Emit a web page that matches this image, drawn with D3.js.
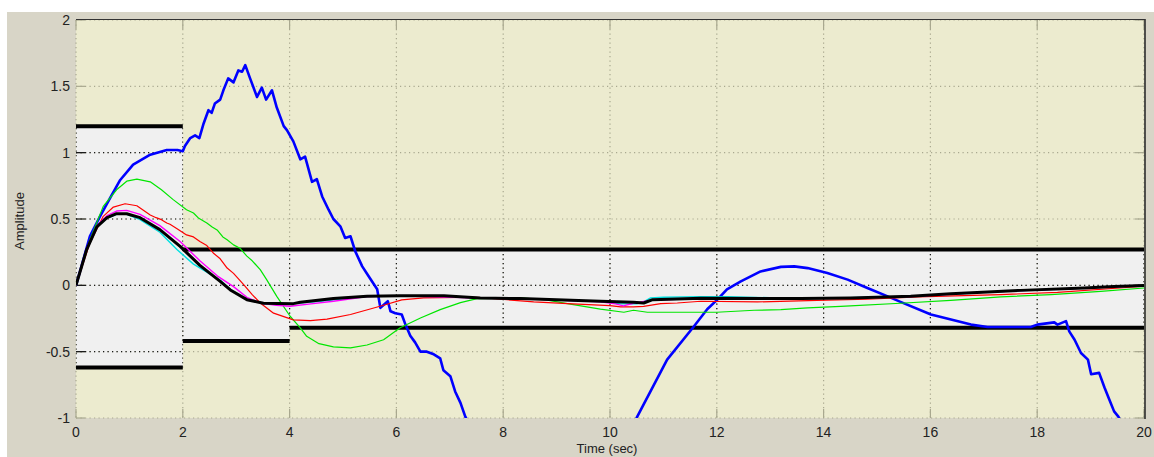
<!DOCTYPE html>
<html>
<head>
<meta charset="utf-8">
<script src="https://cdn.jsdelivr.net/npm/d3@7"></script>
<style>
  html, body { margin: 0; padding: 0; background: #ffffff; }
  #chart { width: 1154px; height: 457px; overflow: hidden; }
  text { font-family: "Liberation Sans", Arial, sans-serif; }
</style>
</head>
<body>
<div id="chart"></div>
<script>
// axis ticks
const xTicks = [0, 2, 4, 6, 8, 10, 12, 14, 16, 18, 20];
const yTicks = [-1, -0.5, 0, 0.5, 1, 1.5, 2];

// constraint bounds: [tStart, tEnd, value]
const upperBounds = [[0, 2, 1.2], [2, 20, 0.27]];
const lowerBounds = [[0, 2, -0.62], [2, 4, -0.42], [4, 20, -0.32]];

// responses, [time, amplitude]
const blueA = [[0,0],[0.1,0.14],[0.26,0.37],[0.45,0.52],[0.64,0.66],[0.82,0.79],[1.07,0.91],[1.39,0.985],[1.7,1.02],[1.9,1.02],[2.0,1.01],
  [2.04,1.05],[2.14,1.11],[2.23,1.13],[2.31,1.11],[2.39,1.22],[2.48,1.32],[2.54,1.30],[2.60,1.37],[2.70,1.40],[2.76,1.47],[2.85,1.56],
  [2.95,1.53],[3.04,1.62],[3.11,1.61],[3.17,1.66],[3.26,1.56],[3.39,1.42],[3.48,1.49],[3.56,1.40],[3.67,1.47],[3.76,1.34],[3.89,1.20],
  [3.95,1.17],[4.07,1.085],[4.20,0.95],[4.29,0.97],[4.42,0.78],[4.51,0.80],[4.61,0.67],[4.73,0.57],[4.82,0.50],[4.95,0.445],[5.04,0.357],
  [5.14,0.37],[5.23,0.256],[5.36,0.143],[5.48,0.068],[5.64,-0.03],[5.70,-0.17],[5.77,-0.145],[5.84,-0.12],[5.89,-0.196],[5.98,-0.21],
  [6.10,-0.22],[6.17,-0.296],[6.26,-0.38],[6.35,-0.43],[6.45,-0.50],[6.57,-0.50],[6.70,-0.52],[6.82,-0.55],[6.88,-0.64],[7.01,-0.685],
  [7.10,-0.80],[7.20,-0.886],[7.29,-0.99],[7.40,-1.08]];
const blueB = [[10.45,-1.04],[10.51,-0.99],[11.07,-0.56],[11.57,-0.31],[11.82,-0.18],[12.01,-0.108],[12.19,-0.03],[12.45,0.03],[12.82,0.105],
  [13.20,0.139],[13.45,0.143],[13.70,0.13],[14.07,0.093],[14.45,0.043],[14.82,-0.02],[15.20,-0.083],[15.44,-0.125],[16.01,-0.22],
  [16.76,-0.296],[17.07,-0.314],[17.88,-0.314],[18.0,-0.296],[18.32,-0.279],[18.38,-0.296],[18.54,-0.27],[18.6,-0.347],[18.70,-0.41],
  [18.82,-0.51],[18.95,-0.56],[19.01,-0.67],[19.16,-0.66],[19.26,-0.77],[19.35,-0.86],[19.44,-0.95],[19.52,-0.99],[19.6,-1.05]];
const greenLine = [[0,0],[0.26,0.344],[0.51,0.595],[0.76,0.72],[0.95,0.785],[1.14,0.80],[1.39,0.78],[1.6,0.72],[1.82,0.646],[2.07,0.57],
  [2.2,0.545],[2.3,0.505],[2.45,0.47],[2.55,0.44],[2.65,0.415],[2.75,0.365],[2.83,0.344],[2.95,0.305],[3.07,0.28],[3.2,0.22],
  [3.3,0.185],[3.45,0.118],[3.57,0.043],[3.76,-0.083],[4.01,-0.233],[4.2,-0.32],[4.32,-0.384],[4.55,-0.44],[4.82,-0.464],[5.14,-0.472],
  [5.45,-0.45],[5.76,-0.41],[6.07,-0.32],[6.45,-0.246],[6.82,-0.183],[7.2,-0.13],[7.51,-0.10],[8.32,-0.095],[8.8,-0.11],[9.2,-0.138],
  [9.82,-0.18],[10.26,-0.203],[10.44,-0.188],[10.7,-0.203],[12.0,-0.203],[12.7,-0.188],[13.2,-0.183],[13.7,-0.17],[14.32,-0.158],
  [14.5,-0.155],[15.44,-0.135],[16.38,-0.113],[17.32,-0.087],[18.26,-0.07],[19.19,-0.045],[20,-0.02]];
const redLine = [[0,0],[0.26,0.32],[0.51,0.52],[0.70,0.59],[0.92,0.615],[1.14,0.60],[1.39,0.53],[1.5,0.51],[1.6,0.495],[1.7,0.47],
  [1.76,0.46],[1.9,0.425],[2.07,0.38],[2.2,0.365],[2.32,0.33],[2.45,0.30],[2.57,0.244],[2.7,0.20],[2.83,0.13],[2.95,0.09],[3.14,0.005],
  [3.3,-0.07],[3.45,-0.133],[3.70,-0.21],[4.07,-0.26],[4.39,-0.266],[4.7,-0.255],[5.14,-0.22],[5.76,-0.15],[6.1,-0.11],[6.51,-0.095],
  [7.5,-0.09],[8.57,-0.125],[9.3,-0.14],[10.0,-0.153],[10.2,-0.163],[10.44,-0.163],[10.63,-0.158],[10.95,-0.138],[11.26,-0.133],
  [11.7,-0.12],[12.76,-0.125],[13.88,-0.113],[14.82,-0.105],[15.76,-0.087],[17.32,-0.07],[18.38,-0.053],[20,-0.007]];
const magentaLine = [[0,0],[0.2,0.275],[0.39,0.45],[0.58,0.525],[0.76,0.56],[0.95,0.565],[1.2,0.535],[1.57,0.45],[1.95,0.33],[2.32,0.185],
  [2.65,0.07],[2.95,-0.01],[3.2,-0.09],[3.45,-0.133],[3.75,-0.15],[4.01,-0.158],[4.4,-0.14],[4.82,-0.12],[5.45,-0.085],[6.07,-0.078],
  [7.57,-0.095],[8.32,-0.10],[9.82,-0.125],[10.1,-0.14],[10.25,-0.155],[10.44,-0.135],[10.8,-0.11],[11.7,-0.10],[13.57,-0.10],
  [15.63,-0.085],[17.07,-0.05],[18.88,-0.02],[20,-0.002]];
const cyanLine = [[0,0],[0.2,0.27],[0.39,0.44],[0.58,0.505],[0.76,0.535],[0.95,0.535],[1.2,0.495],[1.57,0.40],[1.89,0.27],[2.2,0.16],
  [2.7,0.04],[2.89,-0.03],[3.2,-0.108],[3.51,-0.138],[4.07,-0.138],[4.57,-0.12],[5.45,-0.083],[6.89,-0.078],[7.57,-0.095],[8.32,-0.10],
  [9.82,-0.12],[10.2,-0.14],[10.5,-0.14],[10.63,-0.125],[10.76,-0.095],[11.0,-0.09],[11.7,-0.085],[12.2,-0.085],[13.57,-0.10],
  [15.63,-0.083],[17.07,-0.05],[18.88,-0.02],[20,-0.002]];
const blackLine = [[0,0],[0.2,0.27],[0.39,0.44],[0.58,0.51],[0.76,0.54],[0.95,0.54],[1.2,0.51],[1.57,0.42],[1.95,0.294],[2.32,0.15],
  [2.70,0.03],[2.89,-0.035],[3.2,-0.108],[3.51,-0.135],[4.07,-0.138],[4.2,-0.128],[4.82,-0.10],[5.45,-0.083],[6.07,-0.078],[6.89,-0.078],
  [7.57,-0.095],[8.32,-0.10],[9.82,-0.12],[10.44,-0.128],[10.63,-0.133],[10.8,-0.108],[11.7,-0.097],[13.57,-0.10],[14.51,-0.095],
  [15.63,-0.083],[16.38,-0.063],[17.07,-0.05],[17.69,-0.038],[18.88,-0.02],[19.44,-0.008],[20,-0.002]];

const series = [
  { data: blueA, color: "#0000ff", w: 2.6 },
  { data: blueB, color: "#0000ff", w: 2.6 },
  { data: greenLine, color: "#00e600", w: 1.2 },
  { data: redLine, color: "#ff0000", w: 1.2 },
  { data: cyanLine, color: "#00e0e0", w: 1.4 },
  { data: magentaLine, color: "#ff00ff", w: 1.4 },
  { data: blackLine, color: "#000000", w: 3 }
];

const W = 1154, H = 457;
const m = { left: 76, right: 1144, top: 20, bottom: 418 };

const svg = d3.select("#chart").append("svg").attr("width", W).attr("height", H);
svg.append("rect").attr("x", 7).attr("y", 12).attr("width", W - 7).attr("height", H - 12).attr("fill", "#d8d5c7");

const x = d3.scaleLinear().domain([0, 20]).range([m.left, m.right]);
const y = d3.scaleLinear().domain([-1, 2]).range([m.bottom, m.top]);

svg.append("rect").attr("x", m.left).attr("y", m.top).attr("width", m.right - m.left).attr("height", m.bottom - m.top).attr("fill", "#ecebcf");

const defs = svg.append("defs");
defs.append("clipPath").attr("id", "plot").append("rect")
  .attr("x", m.left).attr("y", m.top).attr("width", m.right - m.left).attr("height", m.bottom - m.top);

// feasible region between bounds
const regions = [[0, 2, 1.2, -0.62], [2, 4, 0.27, -0.42], [4, 20, 0.27, -0.32]];
const regClip = defs.append("clipPath").attr("id", "region");
[svg.append("g"), regClip].forEach(function(g, k) {
  g.selectAll("rect").data(regions).enter().append("rect")
    .attr("x", d => x(d[0])).attr("width", d => x(d[1]) - x(d[0]))
    .attr("y", d => y(d[2])).attr("height", d => y(d[3]) - y(d[2]))
    .attr("fill", k === 0 ? "#f0f0f0" : null);
});

function grid(g, color) {
  g.selectAll("line.v").data(xTicks).enter().append("line").attr("class", "v")
    .attr("x1", d => x(d)).attr("x2", d => x(d)).attr("y1", m.top).attr("y2", m.bottom);
  g.selectAll("line.h").data(yTicks).enter().append("line").attr("class", "h")
    .attr("x1", m.left).attr("x2", m.right).attr("y1", d => y(d)).attr("y2", d => y(d));
  g.selectAll("line").attr("stroke", color).attr("stroke-width", 1.2).attr("stroke-dasharray", "1.2,3.3");
  // inner tick marks
  const tk = g.append("g");
  xTicks.forEach(function(t) {
    tk.append("line").attr("x1", x(t)).attr("x2", x(t)).attr("y1", m.bottom).attr("y2", m.bottom - 9);
    tk.append("line").attr("x1", x(t)).attr("x2", x(t)).attr("y1", m.top).attr("y2", m.top + 9);
  });
  yTicks.forEach(function(t) {
    tk.append("line").attr("x1", m.left).attr("x2", m.left + 9).attr("y1", y(t)).attr("y2", y(t));
    tk.append("line").attr("x1", m.right - 9).attr("x2", m.right).attr("y1", y(t)).attr("y2", y(t));
  });
  tk.selectAll("line").attr("stroke", color).attr("stroke-width", 1.2);
}
grid(svg.append("g"), "#a9a88f");
grid(svg.append("g").attr("clip-path", "url(#region)"), "#1a1a1a");

// bound lines
const boundG = svg.append("g");
boundG.selectAll("line").data(upperBounds.concat(lowerBounds)).enter().append("line")
  .attr("x1", d => x(d[0])).attr("x2", d => x(d[1]))
  .attr("y1", d => y(d[2])).attr("y2", d => y(d[2]))
  .attr("stroke", "#000").attr("stroke-width", 4);

const line = d3.line().x(d => x(d[0])).y(d => y(d[1]));
svg.append("g").attr("clip-path", "url(#plot)")
  .selectAll("path").data(series).enter().append("path")
  .attr("d", d => line(d.data))
  .attr("fill", "none")
  .attr("stroke", d => d.color)
  .attr("stroke-width", d => d.w)
  .attr("stroke-linejoin", "round");

// box edges
svg.append("line").attr("x1", m.right + 1).attr("x2", m.right + 1).attr("y1", m.top - 1).attr("y2", m.bottom + 1)
  .attr("stroke", "#222").attr("stroke-width", 1.5);
svg.append("line").attr("x1", m.left).attr("x2", m.right + 1).attr("y1", m.top - 0.5).attr("y2", m.top - 0.5)
  .attr("stroke", "#333").attr("stroke-width", 1);

// tick labels
svg.append("g").selectAll("text").data(xTicks).enter().append("text")
  .attr("x", d => x(d)).attr("y", 437).attr("text-anchor", "middle")
  .attr("font-size", 14).attr("fill", "#222").text(d => d);
svg.append("g").selectAll("text").data(yTicks).enter().append("text")
  .attr("x", 70).attr("y", d => y(d) + 5).attr("text-anchor", "end")
  .attr("font-size", 14).attr("fill", "#222").text(d => d);

svg.append("text").attr("x", 607).attr("y", 453).attr("text-anchor", "middle")
  .attr("font-size", 13).attr("fill", "#222").text("Time (sec)");
svg.append("text").attr("transform", "translate(24,221) rotate(-90)").attr("text-anchor", "middle")
  .attr("font-size", 13).attr("fill", "#222").text("Amplitude");
</script>
</body>
</html>
